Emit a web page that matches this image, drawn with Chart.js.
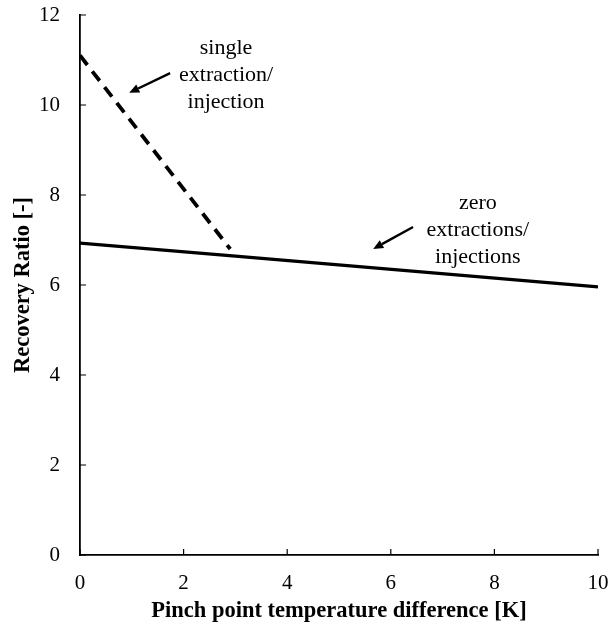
<!DOCTYPE html>
<html>
<head>
<meta charset="utf-8">
<script src="https://cdn.jsdelivr.net/npm/chart.js@4/dist/chart.umd.min.js"></script>
<style>
  html, body { margin: 0; padding: 0; background: #fff; }
  #wrap { width: 612px; height: 626px; }
</style>
</head>
<body>
<div id="wrap"><canvas id="c" width="612" height="626"></canvas></div>
<script>
// ---- data ----
const xTicks = [0, 2, 4, 6, 8, 10];
const yTicks = [0, 2, 4, 6, 8, 10, 12];
const zeroX = [0, 3, 10];
const zeroY = [6.93, 6.64, 5.96];
const singleX = [0, 2.9];
const singleY = [11.1, 6.8];
const xTitle = 'Pinch point temperature difference [K]';
const yTitle = 'Recovery Ratio [-]';
const singleLabel = ['single', 'extraction/', 'injection'];
const zeroLabel = ['zero', 'extractions/', 'injections'];

// annotations (data coordinates)
const notes = [
  { lines: singleLabel, x: 2.82, y: 11.27, from: [1.74, 10.71], to: [0.95, 10.27] },
  { lines: zeroLabel, x: 7.68, y: 7.82, from: [6.43, 7.29], to: [5.66, 6.80] }
];

const toPts = (xs, ys) => xs.map((x, i) => ({ x, y: ys[i] }));

Chart.defaults.font.family = '"Liberation Serif", "Times New Roman", serif';
Chart.defaults.color = '#000';

const inwardTicks = {
  id: 'inwardTicks',
  afterDatasetsDraw(chart) {
    const ctx = chart.ctx;
    const xs = chart.scales.x, ys = chart.scales.y;
    const ca = chart.chartArea;
    ctx.save();
    ctx.strokeStyle = '#000';
    ctx.lineWidth = 1.2;
    ctx.beginPath();
    xTicks.forEach(v => {
      const px = xs.getPixelForValue(v);
      ctx.moveTo(px, ca.bottom);
      ctx.lineTo(px, ca.bottom - 6);
    });
    yTicks.forEach(v => {
      const py = ys.getPixelForValue(v);
      ctx.moveTo(ca.left, py);
      ctx.lineTo(ca.left + 6, py);
    });
    ctx.stroke();

    // annotations
    ctx.fillStyle = '#000';
    ctx.font = '22px "Liberation Serif", "Times New Roman", serif';
    ctx.textAlign = 'center';
    ctx.textBaseline = 'middle';
    notes.forEach(n => {
      const cx = xs.getPixelForValue(n.x);
      const cy = ys.getPixelForValue(n.y);
      n.lines.forEach((t, i) => ctx.fillText(t, cx, cy + i * 27));
      const x1 = xs.getPixelForValue(n.from[0]), y1 = ys.getPixelForValue(n.from[1]);
      const x2 = xs.getPixelForValue(n.to[0]), y2 = ys.getPixelForValue(n.to[1]);
      const ang = Math.atan2(y2 - y1, x2 - x1);
      const hl = 10, hw = 4.5;
      const bx = x2 - hl * Math.cos(ang), by = y2 - hl * Math.sin(ang);
      ctx.lineWidth = 2.4;
      ctx.beginPath();
      ctx.moveTo(x1, y1);
      ctx.lineTo(bx, by);
      ctx.stroke();
      ctx.beginPath();
      ctx.moveTo(x2, y2);
      ctx.lineTo(bx + hw * Math.sin(ang), by - hw * Math.cos(ang));
      ctx.lineTo(bx - hw * Math.sin(ang), by + hw * Math.cos(ang));
      ctx.closePath();
      ctx.fill();
    });
    ctx.restore();
  }
};

new Chart(document.getElementById('c'), {
  type: 'line',
  data: {
    datasets: [
      {
        label: 'single extraction/injection',
        data: toPts(singleX, singleY),
        borderColor: '#000',
        borderWidth: 3.8,
        borderDash: [12, 8],
        pointRadius: 0,
        tension: 0,
        fill: false
      },
      {
        label: 'zero extractions/injections',
        data: toPts(zeroX, zeroY),
        borderColor: '#000',
        borderWidth: 3.2,
        pointRadius: 0,
        tension: 0,
        fill: false
      }
    ]
  },
  options: {
    responsive: false,
    animation: false,
    layout: { padding: { left: 0, right: 14, top: 15, bottom: 0 } },
    plugins: { legend: { display: false }, tooltip: { enabled: false } },
    scales: {
      x: {
        type: 'linear',
        min: 0, max: 10,
        afterBuildTicks: s => { s.ticks = xTicks.map(v => ({ value: v })); },
        afterFit: s => { s.height = 71; s.paddingLeft = 0; s.paddingRight = 0; s.paddingTop = 0; s.paddingBottom = 0; },
        border: { display: true, color: '#000', width: 1.8 },
        grid: { display: true, drawOnChartArea: false, drawTicks: false, color: 'rgba(0,0,0,0)' },
        ticks: { padding: 16, font: { size: 21 }, color: '#000', maxRotation: 0 },
        title: { display: true, text: xTitle, font: { size: 22.5, weight: 'bold' }, color: '#000', padding: { top: 0, bottom: 1 } }
      },
      y: {
        type: 'linear',
        min: 0, max: 12,
        afterBuildTicks: s => { s.ticks = yTicks.map(v => ({ value: v })); },
        afterFit: s => { s.width = 80; s.paddingLeft = 0; s.paddingRight = 0; s.paddingTop = 0; s.paddingBottom = 0; },
        border: { display: true, color: '#000', width: 1.8 },
        grid: { display: true, drawOnChartArea: false, drawTicks: false, color: 'rgba(0,0,0,0)' },
        ticks: { padding: 20, font: { size: 21 }, color: '#000' },
        title: { display: true, text: yTitle, font: { size: 22.5, weight: 'bold' }, color: '#000', padding: { top: 9.5, bottom: 0 } }
      }
    }
  },
  plugins: [inwardTicks]
});
</script>
</body>
</html>
